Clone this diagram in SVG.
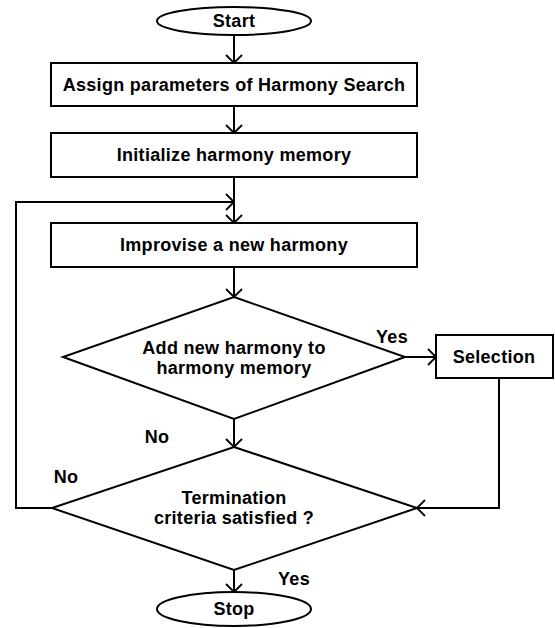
<svg xmlns="http://www.w3.org/2000/svg" width="555" height="628" viewBox="0 0 555 628">
  <style>
    .shape { fill: #ffffff; stroke: #000000; stroke-width: 2; }
    .edge { fill: none; stroke: #000000; stroke-width: 2; }
    text { font-family: "Liberation Sans", Arial, sans-serif; font-weight: bold; font-size: 18px; letter-spacing: 0.3px; fill: #000000; }
    .c { text-anchor: middle; }
  </style>
  <defs>
    <marker id="arrow" markerUnits="userSpaceOnUse" markerWidth="12" markerHeight="20" viewBox="0 0 12 20" refX="10" refY="10" orient="auto">
      <path d="M2,2 L10,10 L2,18" fill="none" stroke="#000000" stroke-width="1.8"/>
    </marker>
  </defs>

  <rect width="555" height="628" fill="#ffffff"/>

  <!-- connectors -->
  <g id="connectors">
    <path class="edge" d="M234,35 V63" marker-end="url(#arrow)"/>
    <path class="edge" d="M234,106 V133" marker-end="url(#arrow)"/>
    <path class="edge" d="M234,177 V223" marker-end="url(#arrow)"/>
    <path class="edge" d="M52,508 H16 V202 H234" marker-end="url(#arrow)"/>
    <path class="edge" d="M234,267 V297" marker-end="url(#arrow)"/>
    <path class="edge" d="M405,357 H436" marker-end="url(#arrow)"/>
    <path class="edge" d="M499,378 V508 H417" marker-end="url(#arrow)"/>
    <path class="edge" d="M234,419 V447" marker-end="url(#arrow)"/>
    <path class="edge" d="M234,570 V592" marker-end="url(#arrow)"/>
    <text x="392" y="343" class="c">Yes</text>
    <text x="157" y="443" class="c">No</text>
    <text x="66" y="483" class="c">No</text>
    <text x="294" y="585" class="c">Yes</text>
  </g>

  <g id="start">
    <ellipse class="shape" cx="234" cy="21" rx="77" ry="14"/>
    <text x="234" y="27" class="c">Start</text>
  </g>

  <g id="assign">
    <rect class="shape" x="51" y="63" width="366" height="43"/>
    <text x="234" y="91" class="c">Assign parameters of Harmony Search</text>
  </g>

  <g id="initialize">
    <rect class="shape" x="51" y="133" width="366" height="44"/>
    <text x="234" y="161" class="c">Initialize harmony memory</text>
  </g>

  <g id="improvise">
    <rect class="shape" x="51" y="223" width="366" height="44"/>
    <text x="234" y="251" class="c">Improvise a new harmony</text>
  </g>

  <g id="add-decision">
    <polygon class="shape" points="234,297 405,357 234,419 63,357"/>
    <text x="234" y="354" class="c">Add new harmony to</text>
    <text x="234" y="374" class="c">harmony memory</text>
  </g>

  <g id="selection">
    <rect class="shape" x="436" y="335" width="117" height="43"/>
    <text x="494" y="363" class="c">Selection</text>
  </g>

  <g id="termination">
    <polygon class="shape" points="234,447 417,508 234,570 52,508"/>
    <text x="234" y="504" class="c">Termination</text>
    <text x="234" y="524" class="c">criteria satisfied ?</text>
  </g>

  <g id="stop">
    <ellipse class="shape" cx="234" cy="609" rx="77" ry="17"/>
    <text x="234" y="615" class="c">Stop</text>
  </g>
</svg>
